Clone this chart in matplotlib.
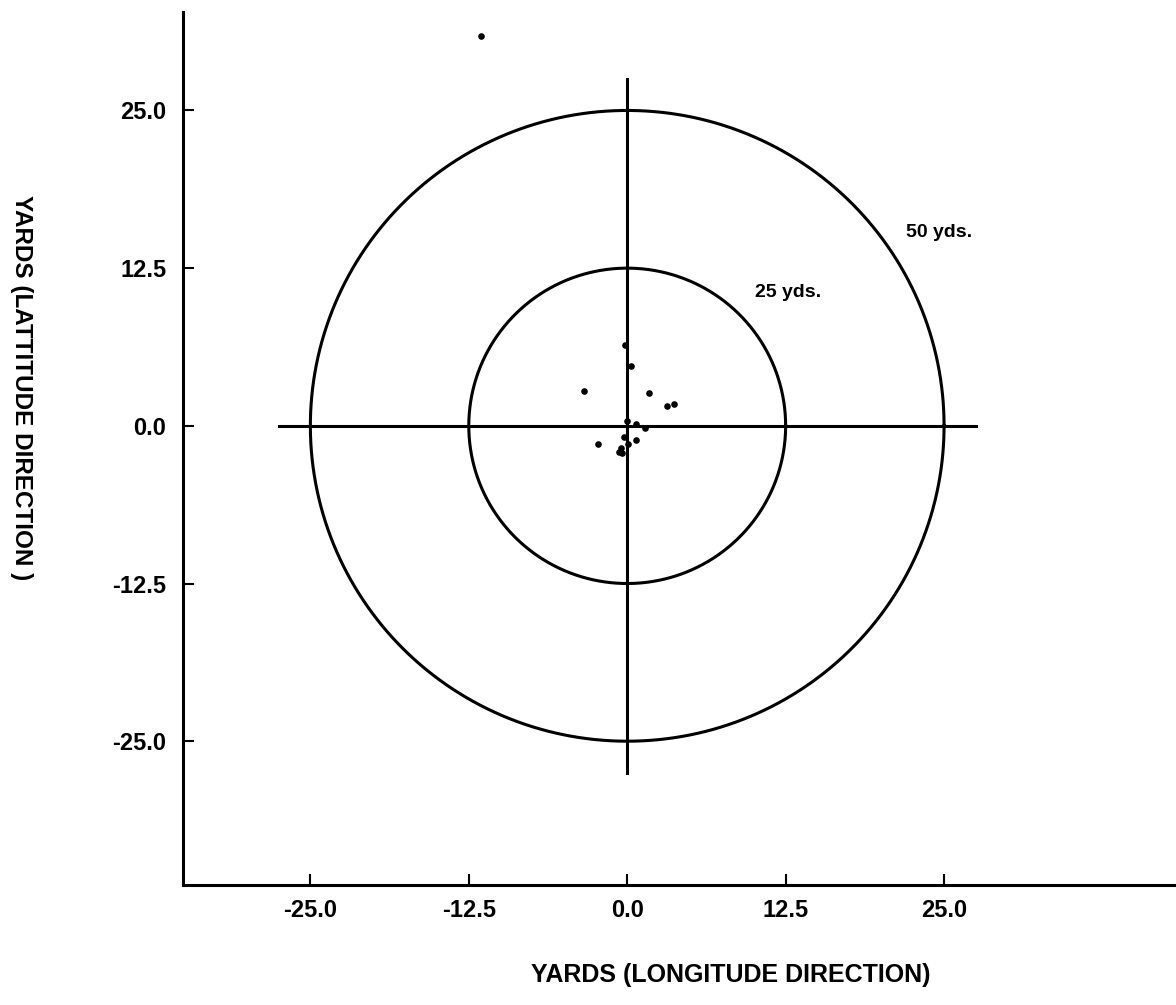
import matplotlib
matplotlib.use("Agg")
import matplotlib.pyplot as plt
import numpy as np

plt.rcParams['font.family'] = ['Liberation Sans', 'DejaVu Sans']
plt.rcParams['font.weight'] = 'bold'

# impact points, yards from the aim point
x_pts = [-0.2, 0.33, -3.4, 1.72, 3.1, 3.67, 0.0, 0.67, 1.4,
         -2.33, -0.28, 0.73, 0.04, -0.51, -0.65, -0.43, -11.5]
y_pts = [6.4, 4.75, 2.8, 2.6, 1.56, 1.74, 0.4, 0.13, -0.18,
         -1.47, -0.92, -1.13, -1.45, -1.79, -2.06, -2.14, 30.9]

ring_radii = [12.5, 25.0]
ring_labels = ['25 yds.', '50 yds.']

tick_vals = [-25.0, -12.5, 0.0, 12.5, 25.0]
cross_half = 27.5

fig = plt.figure(figsize=(11.76, 10.05), dpi=100)
ax = fig.add_axes([0.1556, 0.1194, 0.8444, 0.8686])

th = np.linspace(0, 2 * np.pi, 500)
for r in ring_radii:
    ax.plot(r * np.cos(th), r * np.sin(th), color='black', lw=2.2)

# crosshair through the aim point
ax.plot([-cross_half, cross_half], [0, 0], color='black', lw=2.2)
ax.plot([0, 0], [-cross_half, cross_half], color='black', lw=2.2)

ax.scatter(x_pts, y_pts, s=14, color='black', zorder=3)

ax.text(10.1, 10.6, ring_labels[0], fontsize=14, va='center', ha='left')
ax.text(22.0, 15.3, ring_labels[1], fontsize=14, va='center', ha='left')

ax.set_xlim(-35.05, 43.3)
ax.set_ylim(-36.4, 32.8)

ax.set_xticks(tick_vals)
ax.set_yticks(tick_vals)
ax.set_xticklabels(['%.1f' % v for v in tick_vals])
ax.set_yticklabels(['%.1f' % v for v in tick_vals])
ax.tick_params(axis='both', direction='in', length=8, width=1.5,
               labelsize=17)
ax.tick_params(axis='x', pad=10)
ax.tick_params(axis='y', pad=12)

for s in ['top', 'right']:
    ax.spines[s].set_visible(False)
for s in ['left', 'bottom']:
    ax.spines[s].set_linewidth(2.2)

fig.text(0.6216, 1 - 975 / 1005, 'YARDS (LONGITUDE DIRECTION)',
         fontsize=18, ha='center', va='center')
fig.text(21 / 1176, 1 - 388 / 1005, 'YARDS (LATTITUDE DIRECTION )',
         fontsize=17.5, ha='center', va='center', rotation=-90)

fig.savefig('out.png', dpi=100)
